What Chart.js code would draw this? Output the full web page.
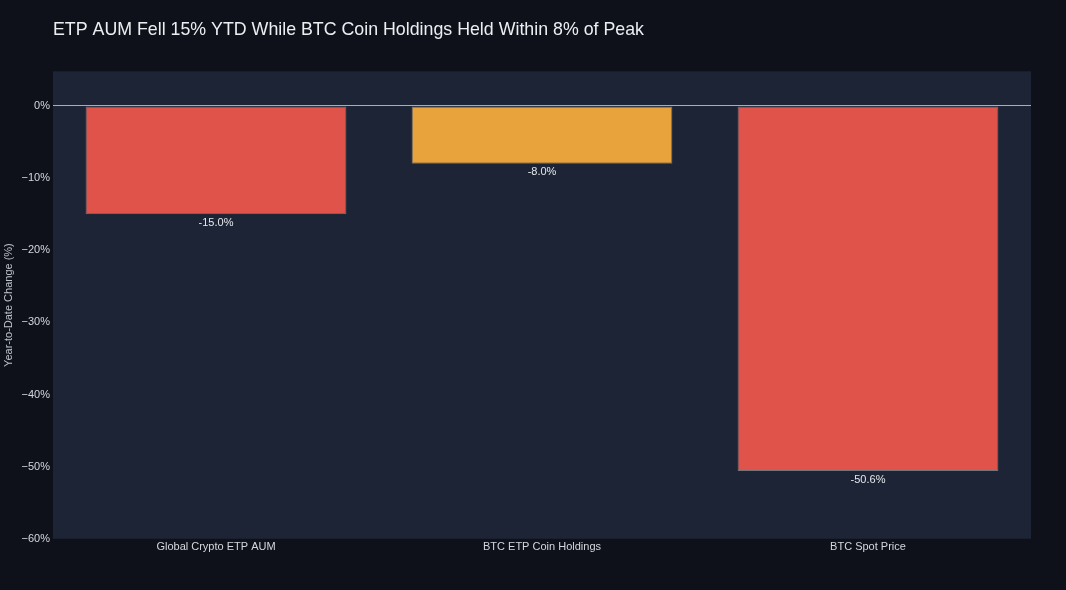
<!DOCTYPE html>
<html>
<head>
<meta charset="utf-8">
<script src="https://cdn.jsdelivr.net/npm/chart.js@4"></script>
<style>
    html, body { margin: 0; padding: 0; background: #0e1119; }
    #wrap { width: 1066px; height: 590px; }
</style>
</head>
<body>
<div id="wrap"><canvas id="chart"></canvas></div>
<script>
var categories = ['Global Crypto ETP AUM', 'BTC ETP Coin Holdings', 'BTC Spot Price'];
var ytdChange = [-15.0, -8.0, -50.6];
var barColors = ['#e0534a', '#e8a33d', '#e0534a'];
var yTicks = [0, -10, -20, -30, -40, -50, -60];

// plot background behind the bars
var plotBackground = {
    id: 'plotBackground',
    beforeDraw: function(chart) {
        var a = chart.chartArea, ctx = chart.ctx;
        ctx.save();
        ctx.fillStyle = '#1c2435';
        ctx.fillRect(a.left, a.top, a.right - a.left, a.bottom - a.top);
        ctx.restore();
    }
};

// value labels just below the bar ends
var valueLabels = {
    id: 'valueLabels',
    afterDatasetsDraw: function(chart) {
        var ctx = chart.ctx;
        var meta = chart.getDatasetMeta(0);
        ctx.save();
        ctx.fillStyle = '#e6e8ec';
        ctx.font = '11px "Liberation Sans", Arial, sans-serif';
        ctx.textAlign = 'center';
        ctx.textBaseline = 'top';
        meta.data.forEach(function(bar, i) {
            ctx.fillText(ytdChange[i].toFixed(1) + '%', bar.x, bar.y + 3);
        });
        ctx.restore();
    }
};

var context = document.getElementById('chart').getContext('2d');
new Chart(context, {
    type: 'bar',
    data: {
        labels: categories,
        datasets: [{
            data: ytdChange,
            backgroundColor: barColors,
            borderColor: 'rgba(170, 170, 170, 0.6)',
            borderWidth: 1,
            borderSkipped: false,
            barPercentage: 0.8,
            categoryPercentage: 1.0
        }]
    },
    options: {
        responsive: true,
        maintainAspectRatio: false,
        animation: false,
        layout: {padding: {top: 0, right: 35, bottom: 34, left: 0}},
        plugins: {
            legend: {display: false},
            tooltip: {enabled: false},
            title: {
                display: true,
                fullSize: false,
                align: 'start',
                text: 'ETP AUM Fell 15% YTD While BTC Coin Holdings Held Within 8% of Peak',
                color: '#eceef2',
                font: {family: '"Liberation Sans", Arial, sans-serif', size: 17.8, weight: 'normal'},
                padding: {top: 19, bottom: 31}
            }
        },
        scales: {
            x: {
                grid: {display: false, drawTicks: false},
                border: {display: false},
                ticks: {
                    color: '#d4d7de',
                    font: {family: '"Liberation Sans", Arial, sans-serif', size: 11},
                    padding: 2
                }
            },
            y: {
                min: -60,
                max: 4.8,
                afterBuildTicks: function(scale) {
                    scale.ticks = yTicks.map(function(v) { return {value: v}; });
                },
                afterFit: function(scale) { scale.width = 53; },
                grid: {
                    color: function(c) { return c.tick && c.tick.value === 0 ? '#9fb0c6' : 'rgba(0,0,0,0)'; },
                    lineWidth: 1,
                    drawTicks: false
                },
                border: {display: false},
                ticks: {
                    color: '#d4d7de',
                    font: {family: '"Liberation Sans", Arial, sans-serif', size: 11},
                    padding: 3,
                    callback: function(v) { return (v < 0 ? '\u2212' + Math.abs(v) : v) + '%'; }
                },
                title: {
                    display: true,
                    text: 'Year-to-Date Change (%)',
                    color: '#bfc4cc',
                    font: {family: '"Liberation Sans", Arial, sans-serif', size: 11},
                    padding: {top: 2, bottom: 0}
                }
            }
        }
    },
    plugins: [plotBackground, valueLabels]
});
</script>
</body>
</html>
